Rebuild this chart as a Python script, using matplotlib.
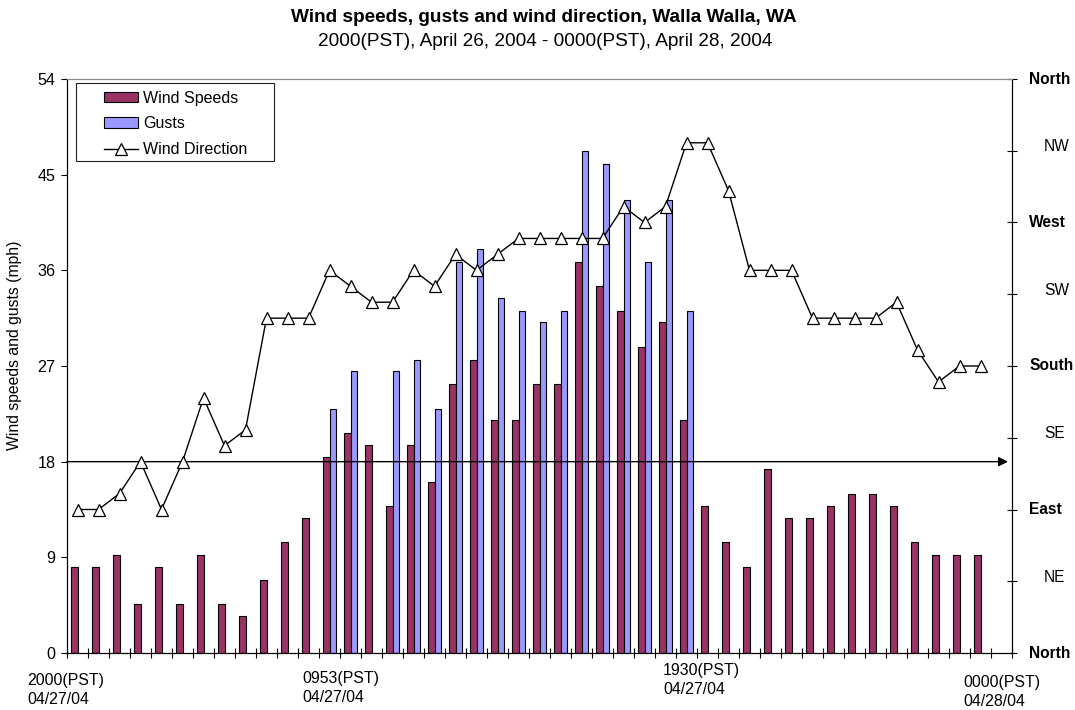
import numpy as np
import matplotlib
matplotlib.use("Agg")
import matplotlib.pyplot as plt
from matplotlib.patches import Patch, Rectangle
from matplotlib.lines import Line2D

plt.rcParams['font.family'] = ['Liberation Sans', 'DejaVu Sans']

# Hourly observations, 2000 PST 04/26 through 0000 PST 04/28
wind_speed_mph = [8.1, 8.1, 9.2, 4.6, 8.1, 4.6, 9.2, 4.6, 3.5, 6.9, 10.4, 12.7,
                  18.4, 20.7, 19.6, 13.8, 19.6, 16.1, 25.3, 27.6, 21.9, 21.9,
                  25.3, 25.3, 36.8, 34.5, 32.2, 28.8, 31.1, 21.9, 13.8, 10.4,
                  8.1, 17.3, 12.7, 12.7, 13.8, 15.0, 15.0, 13.8, 10.4, 9.2,
                  9.2, 9.2]
gust_mph = [np.nan] * 12 + [23.0, 26.5, np.nan, 26.5, 27.6, 23.0, 36.8, 38.0,
                            33.4, 32.2, 31.1, 32.2, 47.2, 46.0, 42.6, 36.8,
                            42.6, 32.2] + [np.nan] * 14
direction_deg = [90, 90, 100, 120, 90, 120, 160, 130, 140, 210, 210, 210,
                 240, 230, 220, 220, 240, 230, 250, 240, 250, 260, 260, 260,
                 260, 260, 280, 270, 280, 320, 320, 290, 240, 240, 240, 210,
                 210, 210, 210, 220, 190, 170, 180, 180]

speed_ticks = [0, 9, 18, 27, 36, 45, 54]
compass_ticks = [0, 45, 90, 135, 180, 225, 270, 315, 360]
compass_labels = ["North", "NE", "East", "SE", "South", "SW", "West", "NW", "North"]
cardinal_points = {"North", "East", "South", "West"}
time_labels = [("2000(PST)", "04/27/04"), ("0953(PST)", "04/27/04"),
               ("1930(PST)", "04/27/04"), ("0000(PST)", "04/28/04")]
reference_speed = 18

n_slots = len(wind_speed_mph) + 1
x = np.arange(len(wind_speed_mph))

W, H = 1075, 710
fig = plt.figure(figsize=(W / 100, H / 100), dpi=100, facecolor='white')
ax = fig.add_axes([67 / W, 57 / H, 945 / W, 574 / H])
ax2 = ax.twinx()

speed_color = '#993366'
gust_color = '#9999FF'
bw = 0.31
ax.bar(x - bw, wind_speed_mph, width=bw, align='edge', color=speed_color,
       edgecolor='black', linewidth=0.8, zorder=2)
ax.bar(x, gust_mph, width=bw, align='edge', color=gust_color,
       edgecolor='black', linewidth=0.8, zorder=2)

ax.set_xlim(-0.5, n_slots - 0.5)
ax.set_ylim(speed_ticks[0], speed_ticks[-1])
ax.set_yticks(speed_ticks)
ax.set_xticks(np.arange(n_slots + 1) - 0.5)
ax.set_xticklabels([])
ax.tick_params(axis='x', direction='inout', length=6.5, width=0.8)
ax.tick_params(axis='y', direction='out', length=4.3, width=0.8, pad=4,
               labelsize=11.6)

# reference line with arrow head at 18 mph
ax.annotate('', xy=((1008 - 67) / 945, reference_speed),
            xytext=(0, reference_speed),
            xycoords=('axes fraction', 'data'),
            textcoords=('axes fraction', 'data'),
            arrowprops=dict(arrowstyle='-|>', color='black', lw=1.0,
                            mutation_scale=14, shrinkA=0, shrinkB=0),
            zorder=3)

ax2.plot(x, direction_deg, color='black', lw=1.0, marker='^', ms=8,
         mfc='white', mec='black', mew=0.9, zorder=4)
ax2.set_ylim(compass_ticks[0], compass_ticks[-1])
ax2.set_yticks(compass_ticks)
ax2.set_yticklabels([])
ax2.tick_params(axis='y', direction='inout', length=6.5, width=0.8)
for lbl, deg in zip(compass_labels, compass_ticks):
    bold = lbl in cardinal_points
    xpos = (1029 - 67) / 945 if bold else (1044 - 67) / 945
    ax2.text(xpos, deg + (0 if bold else 2.5), lbl, transform=ax2.get_yaxis_transform(),
             ha='left', va='center', fontsize=11.2,
             fontweight='bold' if bold else 'normal', clip_on=False)

for a in (ax, ax2):
    a.spines['top'].set_color('#8c8c8c')
    a.spines['left'].set_linewidth(0.8)
    a.spines['right'].set_linewidth(0.8)
    a.spines['bottom'].set_linewidth(0.8)

# legend
handles = [Patch(facecolor=speed_color, edgecolor='black', lw=0.8),
           Patch(facecolor=gust_color, edgecolor='black', lw=0.8),
           Line2D([], [], color='black', lw=1.0, marker='^', ms=8,
                  mfc='white', mec='black', mew=0.9)]
ax2.legend(handles, ['Wind Speeds', 'Gusts', 'Wind Direction'],
           loc='upper left', bbox_to_anchor=((104 - 67) / 945, (653 - 90.5) / 574),
           borderaxespad=0, borderpad=0, frameon=False, fontsize=11.5,
           handlelength=2.15, handleheight=0.65, handletextpad=0.3,
           labelspacing=0.68)
ax2.add_patch(Rectangle(((76 - 67) / 945, (653 - 161) / 574), (274 - 76) / 945,
                        (161 - 83) / 574, transform=ax2.transAxes, fill=False,
                        edgecolor='#222222', lw=0.8, clip_on=False, zorder=5))

# titles and axis label
fig.text(544 / W, 1 - 18 / H, 'Wind speeds, gusts and wind direction, Walla Walla, WA',
         ha='center', va='center', fontsize=13.7, fontweight='bold')
fig.text(545 / W, 1 - 41.5 / H, '2000(PST), April 26, 2004 - 0000(PST), April 28, 2004',
         ha='center', va='center', fontsize=13.7)
fig.text(15 / W, 1 - 345 / H, 'Wind speeds and gusts (mph)', rotation=90,
         ha='center', va='center', fontsize=11.3)

# time stamps along the bottom
label_xy = [(27, 680, 699), (302, 678, 697), (663, 670, 689), (963, 683, 702)]
for (l1, l2), (px, y1, y2) in zip(time_labels, label_xy):
    fig.text(px / W, 1 - y1 / H, l1, ha='left', va='center', fontsize=11.4)
    fig.text(px / W, 1 - y2 / H, l2, ha='left', va='center', fontsize=11.4)

fig.savefig('out.png', dpi=100, facecolor='white')
